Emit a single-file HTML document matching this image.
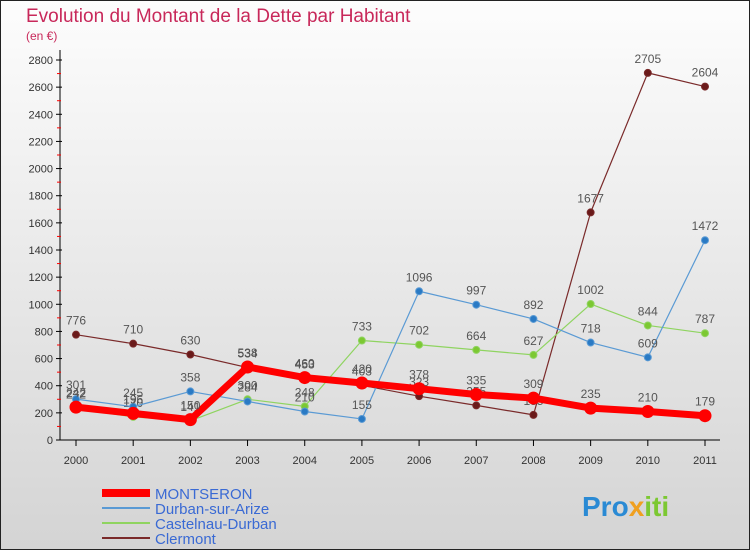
<!DOCTYPE html>
<html><head><meta charset="utf-8"><style>
body{margin:0;width:750px;height:550px;overflow:hidden;font-family:"Liberation Sans",sans-serif}
</style></head><body>
<svg id="c" width="750" height="550" xmlns="http://www.w3.org/2000/svg">
<defs><linearGradient id="bg" x1="0" y1="0" x2="0" y2="1"><stop offset="0" stop-color="#fdfdfd"/><stop offset="1" stop-color="#d4d4d4"/></linearGradient></defs>
<rect x="0" y="0" width="750" height="550" fill="url(#bg)" stroke="#222" stroke-width="2"/>
<text x="26" y="22" font-size="19" fill="#c8285a">Evolution du Montant de la Dette par Habitant</text>
<text x="26" y="40" font-size="12" fill="#c8285a">(en €)</text>
<g id="axes"></g><g id="series"></g><g id="legend"></g>
<text x="582" y="516" font-size="28" font-weight="bold" fill="#2a8ad4">Pro<tspan fill="#f0a020">x</tspan><tspan fill="#7cc832">iti</tspan></text>
</svg>
<script>
const years=[2000,2001,2002,2003,2004,2005,2006,2007,2008,2009,2010,2011];
const yTicks=[0,200,400,600,800,1000,1200,1400,1600,1800,2000,2200,2400,2600,2800];
const montseron=[242,196,150,538,460,420,378,335,309,235,210,179];
const durban=[301,245,358,284,210,155,1096,997,892,718,609,1472];
const castelnau=[232,170,141,300,248,733,702,664,627,1002,844,787];
const clermont=[776,710,630,534,453,403,323,255,185,1677,2705,2604];
const seriesNames=["MONTSERON","Durban-sur-Arize","Castelnau-Durban","Clermont"];
const NS="http://www.w3.org/2000/svg";
const x=i=>76+i*(705-76)/11, y=v=>440-v*(380/2800);
function mk(t,a,p){const e=document.createElementNS(NS,t);for(const k in a)e.setAttribute(k,a[k]);p.appendChild(e);return e;}
const ax=document.getElementById('axes');
const yl=mk('line',{x1:60,y1:50,x2:60,y2:440,stroke:'#000'},ax);


const xl=mk('line',{x1:60,y1:440,x2:720,y2:440,stroke:'#000'},ax);


yTicks.forEach((t,i)=>{
 mk('line',{x1:56,x2:62,y1:y(t),y2:y(t),stroke:'#000'},ax);
 if(i<yTicks.length-1) mk('line',{x1:57,x2:61,y1:y(t+100),y2:y(t+100),stroke:'red'},ax);
 const tx=mk('text',{x:53,y:y(t)+4,'text-anchor':'end','font-size':11,fill:'#333'},ax);tx.textContent=t;
 
 
});
years.forEach((yr,i)=>{
 mk('line',{x1:x(i),x2:x(i),y1:440,y2:446,stroke:'#000'},ax);
 const tx=mk('text',{x:x(i),y:464,'text-anchor':'middle','font-size':11,fill:'#333'},ax);tx.textContent=yr;
 
 
});
const sg=document.getElementById('series');
function draw(data,color,w,r,dot,name){
 const g=mk('g',{},sg);
 
 
 mk('polyline',{points:data.map((v,i)=>x(i)+','+y(v)).join(' '),fill:'none',stroke:color,'stroke-width':w,'stroke-linejoin':'round'},g);
 data.forEach((v,i)=>{
  const c=mk('circle',{cx:x(i),cy:y(v),r:r,fill:dot,stroke:color,'stroke-width':1},g);
  
  
  const t=mk('text',{x:x(i),y:y(v)-10,'text-anchor':'middle','font-size':12,fill:'#555'},g);t.textContent=v;
  
  
 });
}
draw(clermont,'#7a2a2a',1.2,3.5,'#6a1a1a','clermont-series');
draw(castelnau,'#8fd460',1.2,3.5,'#7cc832','castelnau-series');
draw(durban,'#5a9ad4',1.2,3.5,'#2a7ac4','durban-series');
draw(montseron,'#ff0000',7,6,'#ff0000','montseron-series');
const lg=document.getElementById('legend');
const cols=['#ff0000','#5a9ad4','#8fd460','#7a2a2a'],ws=[8,2,2,2];
seriesNames.forEach((n,i)=>{
 const yy=493+i*15;
 const it=mk('g',{},lg);
 
 
 mk('line',{x1:102,x2:150,y1:yy,y2:yy,stroke:cols[i],'stroke-width':ws[i]},it);
 const t=mk('text',{x:155,y:yy+6,'font-size':15,fill:'#3a6ad4'},it);t.textContent=n;
});
</script>
</body></html>
